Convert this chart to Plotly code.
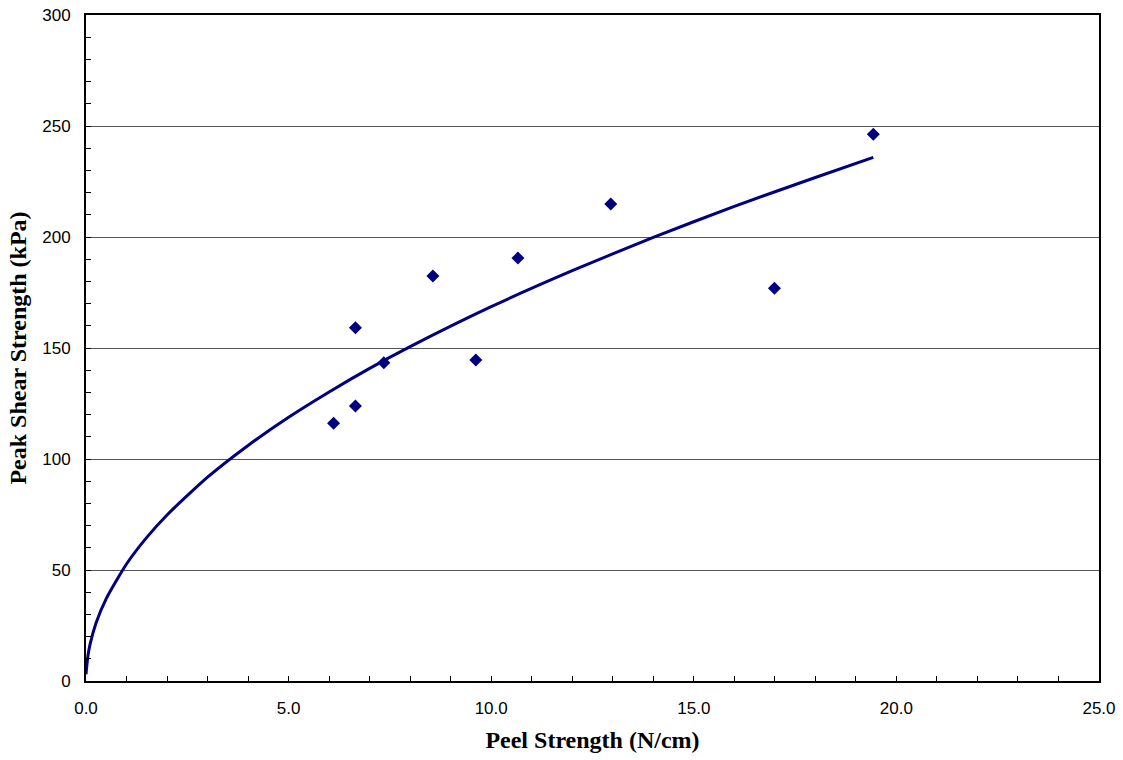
import plotly.graph_objects as go

# Measured data points (Peel Strength N/cm, Peak Shear Strength kPa)
peel = [6.11, 6.65, 6.65, 7.35, 8.56, 9.62, 10.66, 12.95, 16.99, 19.43]
shear = [116.1, 159.1, 123.9, 143.4, 182.4, 144.6, 190.5, 214.9, 176.9, 246.3]

# Curve
curve_x = [0.0, 0.01, 0.05, 0.1, 0.25, 0.5, 1, 1.5, 2, 3, 4, 5, 6, 7, 8, 10, 12, 14, 16, 18, 19.43]
curve_y = [3.0, 5.1, 11.6, 16.5, 26.2, 37.1, 52.7, 64.7, 74.8, 91.8, 106.1, 118.8, 130.2,
           140.8, 150.6, 168.6, 184.8, 199.8, 213.8, 226.8, 235.9]

x_ticks = [0, 5, 10, 15, 20, 25]
y_ticks = [0, 50, 100, 150, 200, 250, 300]

navy = "#000080"

fig = go.Figure()
fig.add_trace(go.Scatter(x=curve_x, y=curve_y, mode="lines",
                         line=dict(color=navy, width=3, shape="spline", smoothing=0.6),
                         showlegend=False, hoverinfo="skip"))
fig.add_trace(go.Scatter(x=peel, y=shear, mode="markers",
                         marker=dict(symbol="diamond", size=10, color=navy),
                         showlegend=False))

tickfont = dict(family="Liberation Sans, Arial", size=17, color="black")
titlefont = dict(family="Liberation Serif, Times New Roman", size=24, color="black")

fig.update_layout(
    width=1123, height=760,
    margin=dict(l=86, r=24, t=15, b=79, autoexpand=False),
    paper_bgcolor="white", plot_bgcolor="white",
    xaxis=dict(
        range=[0, 25], tickvals=x_ticks, tickformat=".1f",
        ticks="inside", ticklen=5, tickcolor="black", tickwidth=1,
        minor=dict(dtick=1, ticks="inside", ticklen=5, tickcolor="black", showgrid=False),
        showgrid=False, zeroline=False,
        showline=True, linecolor="black", linewidth=2, mirror=True,
        tickfont=tickfont, ticklabelstandoff=11, ticklabeloverflow="allow",
        title=dict(text="<b>Peel Strength (N/cm)</b>", font=titlefont, standoff=14),
    ),
    yaxis=dict(
        range=[0, 300], tickvals=y_ticks,
        ticks="inside", ticklen=5, tickcolor="black", tickwidth=1,
        minor=dict(dtick=10, ticks="inside", ticklen=5, tickcolor="black", showgrid=False),
        showgrid=True, gridcolor="#555555", gridwidth=1, zeroline=False,
        showline=True, linecolor="black", linewidth=2, mirror=True,
        tickfont=tickfont, ticklabelstandoff=10, ticklabeloverflow="allow",
        title=dict(text="<b>Peak Shear Strength (kPa)</b>", font=titlefont, standoff=9),
    ),
)

fig.write_html("out.html", config={"displayModeBar": False},
               post_script="document.body.style.margin='0';")
